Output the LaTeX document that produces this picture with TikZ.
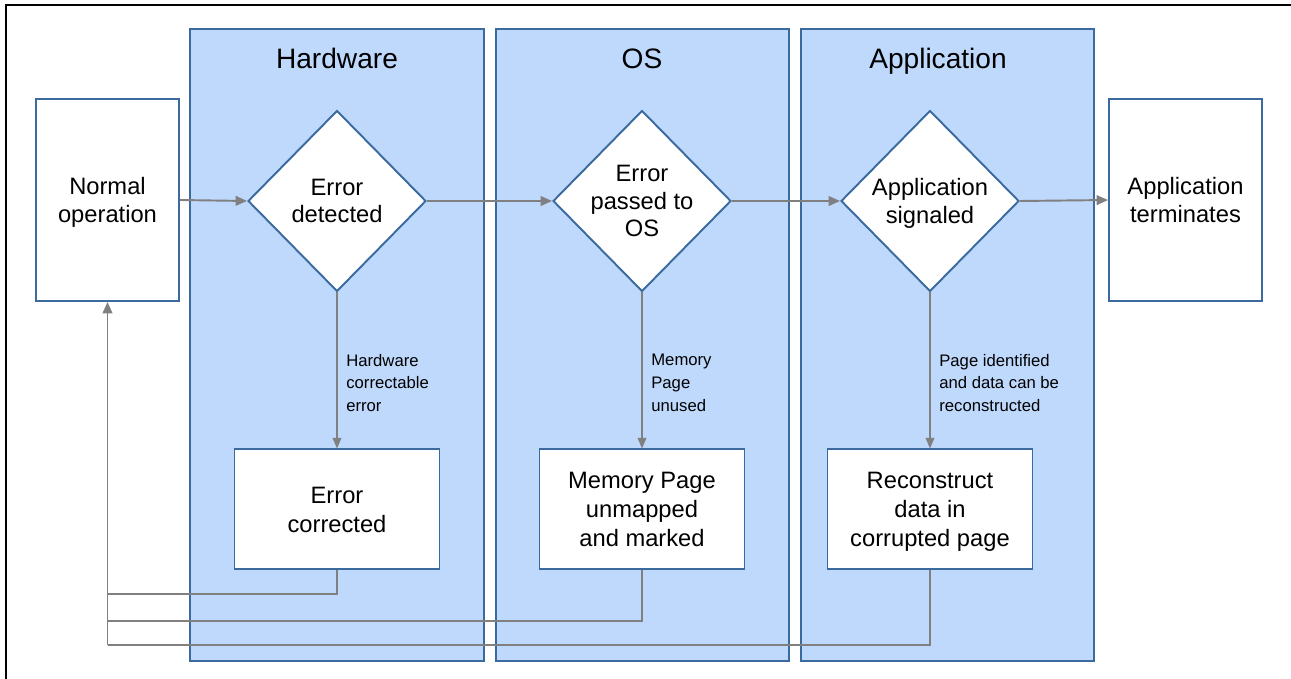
\documentclass[tikz,border=0pt]{standalone}
\usepackage{fontspec}
\setmainfont{Liberation Sans}
\usepackage{tikz}
\usetikzlibrary{arrows.meta,positioning,shapes.geometric}
\definecolor{lanefill}{HTML}{BFD9FC}
\definecolor{laneedge}{HTML}{3B6A9E}
\definecolor{flowgray}{HTML}{808080}
\tikzset{
  lanebox/.style={
    rectangle, draw=laneedge, fill=lanefill, line width=1.1pt,
    minimum width=5.88cm, minimum height=12.64cm, inner sep=0pt
  },
  lanetitle/.style={
    font=\fontsize{16}{19}\selectfont, anchor=base
  },
  stepbox/.style={
    rectangle, draw=laneedge, fill=white, line width=1.1pt,
    minimum width=#1, minimum height=4.04cm,
    font=\fontsize{13.5}{16}\selectfont, align=center,
    inner sep=2pt, text depth=0pt
  },
  stepbox/.default=2.86cm,
  fixbox/.style={
    rectangle, draw=laneedge, fill=white, line width=1.1pt,
    minimum width=4.1cm, minimum height=2.4cm,
    font=\fontsize{13.5}{16.5}\selectfont, align=center,
    inner sep=2pt, text depth=0pt
  },
  decision/.style={
    diamond, draw=laneedge, fill=white, line width=1.1pt,
    minimum width=3.56cm, minimum height=3.62cm,
    font=\fontsize{13.5}{15.6}\selectfont, align=center,
    inner sep=0pt, text depth=0pt
  },
  flow/.style={
    -{Triangle[length=6.5pt,width=5.5pt]}, draw=flowgray, line width=1.1pt
  },
  branch/.style={
    -{Triangle[length=6pt,width=5pt]}, draw=flowgray, line width=0.6pt
  },
  back/.style={
    draw=flowgray, line width=1.1pt
  },
  branchlabel/.style={
    font=\fontsize{9.5}{13}\selectfont, align=left, inner sep=0pt
  },
}

\begin{document}
\begin{tikzpicture}[x=0.02cm, y=-0.02cm]
  \useasboundingbox (0,0) rectangle (1291,679);
  \draw[black, line width=0.6pt] (6,679) -- (6,5) -- (1291,5);

  % swim lanes
  \node[lanebox] (hwlane) at (337,345) {};
  \node[lanebox, minimum width=5.86cm] (oslane) at (642.5,345) {};
  \node[lanebox, minimum width=5.86cm] (applane) at (947.5,345) {};
  \node[lanetitle] (hwtitle) at (337,69) {Hardware};
  \node[lanetitle] (ostitle) at (642,69) {OS};
  \node[lanetitle] (apptitle) at (938,69) {Application};

  % main path
  \node[stepbox] (normal) at (107.5,200) {Normal\\operation};
  \node[decision] (hwdiam) at (337,201) {Error\\detected};
  \node[decision] (osdiam) at (642,201) {Error\\passed to\\OS};
  \node[decision] (appdiam) at (930,201) {Application\\signaled};
  \node[stepbox=3.06cm] (term) at (1185.5,200) {Application\\terminates};

  \draw[flow] (normal.east) -- (hwdiam.west);
  \draw[flow] (hwdiam.east) -- (osdiam.west);
  \draw[flow] (osdiam.east) -- (appdiam.west);
  \draw[flow] (appdiam.east) -- (term.west);

  % recovery branches
  \node[fixbox, below=3.12cm of hwdiam] (hwfix) {Error\\corrected};
  \node[fixbox, below=3.12cm of osdiam] (osfix) {Memory Page\\unmapped\\and marked};
  \node[fixbox, below=3.12cm of appdiam] (appfix) {Reconstruct\\data in\\corrupted page};

  \draw[branch] (hwdiam.south) -- (hwfix.north)
    node[branchlabel, pos=0.58, right=5pt] (hwnote) {Hardware\\correctable\\error};
  \draw[branch] (osdiam.south) -- (osfix.north)
    node[branchlabel, pos=0.58, right=5pt] (osnote) {Memory\\Page\\unused};
  \draw[branch] (appdiam.south) -- (appfix.north)
    node[branchlabel, pos=0.58, right=5pt] (appnote) {Page identified\\and data can be\\reconstructed};

  % back to normal operation
  \coordinate (backA) at (107.5,594);
  \coordinate (backB) at (107.5,621);
  \coordinate (backC) at (107.5,645);
  \draw[back] (hwfix.south) |- (backA);
  \draw[back] (osfix.south) |- (backB);
  \draw[back] (appfix.south) |- (backC);
  \draw[flow] (backC) -- (normal.south);
\end{tikzpicture}
\end{document}
